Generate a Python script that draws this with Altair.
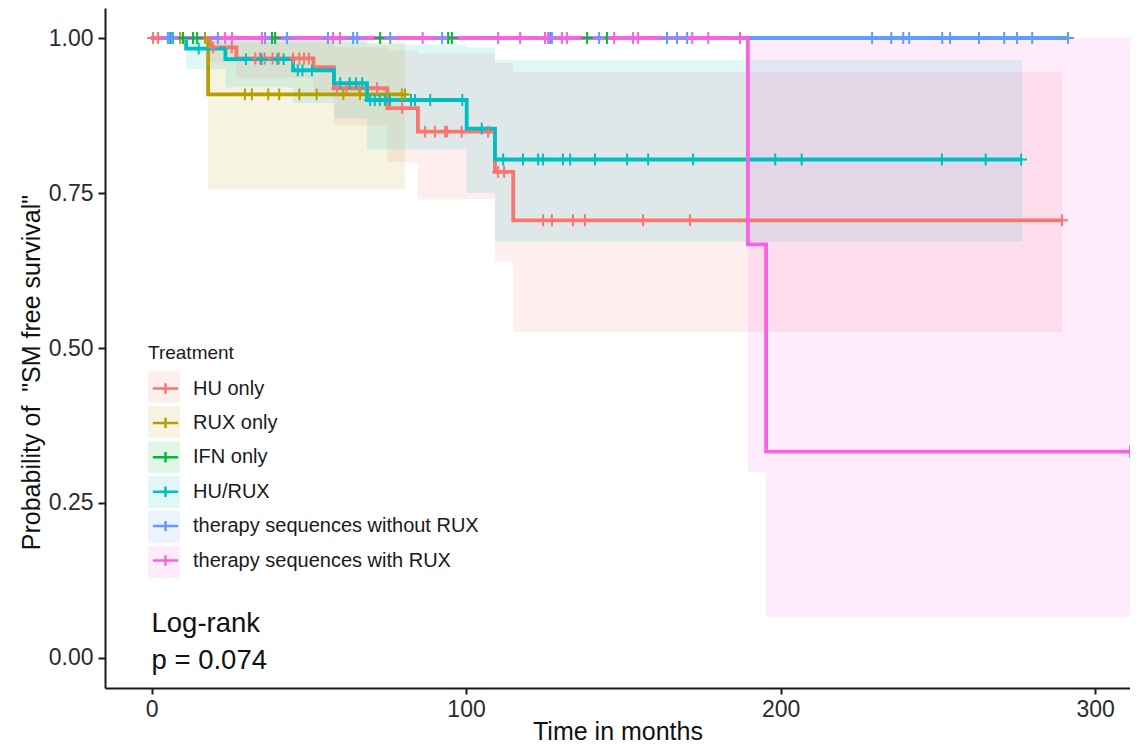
import altair as alt
import pandas as pd

groups = ["HU only", "RUX only", "IFN only", "HU/RUX",
          "therapy sequences without RUX", "therapy sequences with RUX"]
colors = ["#F8766D", "#B79F00", "#00BA38", "#00BFC4", "#619CFF", "#F564E3"]
band_keys = ["k1", "k2", "k3", "k4", "k5", "k6"]

# Kaplan-Meier step curves (time in months, survival, lower CI, upper CI)
hu_t = [0, 18.6, 27.0, 51.5, 58.0, 75.0, 84.7, 109.2, 115.0, 289.5]
hu_s = [1.0, 0.985, 0.967, 0.953, 0.919, 0.887, 0.849, 0.784, 0.706, 0.706]
hu_lo = [1.0, 0.96, 0.935, 0.91, 0.86, 0.80, 0.74, 0.64, 0.526, 0.526]
hu_hi = [1.0, 1.0, 1.0, 1.0, 0.985, 0.98, 0.975, 0.96, 0.946, 0.946]

rux_t = [0, 18.0, 80.6]
rux_s = [1.0, 0.909, 0.909]
rux_lo = [1.0, 0.756, 0.756]
rux_hi = [1.0, 0.993, 0.993]

ifn_t = [0, 144.8]
ifn_s = [1.0, 1.0]
ifn_lo = [1.0, 1.0]
ifn_hi = [1.0, 1.0]

hurux_t = [0, 11.0, 23.5, 45.0, 58.0, 68.5, 100.2, 109.2, 276.8]
hurux_s = [1.0, 0.983, 0.966, 0.948, 0.927, 0.90, 0.854, 0.804, 0.804]
hurux_lo = [1.0, 0.95, 0.92, 0.895, 0.87, 0.82, 0.75, 0.6715, 0.6715]
hurux_hi = [1.0, 1.0, 1.0, 1.0, 1.0, 0.99, 0.985, 0.965, 0.965]

nrux_t = [0, 291.4]
nrux_s = [1.0, 1.0]
nrux_lo = [1.0, 1.0]
nrux_hi = [1.0, 1.0]

wrux_t = [0, 189.6, 195.4, 311.1]
wrux_s = [1.0, 0.667, 0.333, 0.333]
wrux_lo = [1.0, 0.30, 0.066, 0.066]
wrux_hi = [1.0, 1.0, 1.0, 1.0]

# censoring times (months)
hu_c = [0.5, 2.1, 19.6, 25.5, 33.0, 34.5, 36.0, 38.5, 40.5, 45.0, 47.0, 48.5, 50.0,
        59.0, 62.0, 66.0, 71.7, 79.7, 87.0, 90.1, 93.3, 94.0, 98.6, 107.0,
        110.2, 112.1, 124.5, 127.3, 134.0, 137.8, 156.3, 171.2, 289.5]
rux_c = [9.1, 17.0, 29.7, 31.9, 37.1, 40.6, 47.0, 52.5, 61.0, 66.3, 79.6, 80.6]
ifn_c = [10.0, 13.2, 14.5, 38.3, 39.3, 72.7, 94.3, 95.5, 138.5, 144.8]
hurux_c = [5.9, 6.8, 15.0, 30.0, 35.0, 40.0, 42.0, 46.5, 48.0, 51.0, 60.0, 63.0, 65.0, 67.0,
           69.5, 71.0, 72.6, 74.2, 75.8, 82.5, 83.8, 88.6, 98.8, 105.0,
           111.8, 118.1, 122.9, 124.5, 130.8, 133.1, 141.0, 151.2, 157.9, 172.2,
           198.3, 206.7, 251.3, 265.2, 276.5]
nrux_c = [5.2, 6.5, 21.1, 36.1, 43.1, 56.1, 64.1, 65.4, 75.9, 92.4, 126.7, 127.3, 142.3,
          163.9, 167.1, 170.3, 229.1, 235.2, 239.0, 240.9, 251.4, 253.9, 263.1, 271.1,
          275.2, 280.0, 291.4]
wrux_c = [23.4, 25.6, 35.1, 57.7, 59.9, 86.2, 110.2, 117.2, 125.1, 126.1, 130.5, 132.1,
          147.1, 153.1, 154.7, 171.9, 177.0, 187.1, 311.1]

note_text = ["Log-rank", "p = 0.074"]
note_x = [0, 0]
note_y = [0.0419, -0.0177]

curves = [
    (groups[0], hu_t, hu_s, hu_lo, hu_hi, hu_c),
    (groups[1], rux_t, rux_s, rux_lo, rux_hi, rux_c),
    (groups[2], ifn_t, ifn_s, ifn_lo, ifn_hi, ifn_c),
    (groups[3], hurux_t, hurux_s, hurux_lo, hurux_hi, hurux_c),
    (groups[4], nrux_t, nrux_s, nrux_lo, nrux_hi, nrux_c),
    (groups[5], wrux_t, wrux_s, wrux_lo, wrux_hi, wrux_c),
]


def level_at(times, surv, t):
    v = surv[0]
    for ti, si in zip(times, surv):
        if ti <= t:
            v = si
    return v


step_rows, cens_rows = [], []
for (g, ts, ss, lo, hi, cs), key in zip(curves, band_keys):
    for t, s, l, h in zip(ts, ss, lo, hi):
        step_rows.append({"group": g, "key": key, "t": t, "s": s, "lo": l, "hi": h})
    for c in cs:
        cens_rows.append({"group": g, "t": c, "s": level_at(ts, ss, c)})

steps = pd.DataFrame(step_rows)
cens = pd.DataFrame(cens_rows)
notes = pd.DataFrame({"x": note_x, "y": note_y, "label": note_text})

FONT = "Liberation Sans"
x_scale = alt.Scale(domain=[-14.79, 311.1], nice=False, zero=False)
y_scale = alt.Scale(domain=[-0.0484, 1.0484], nice=False, zero=False)

x_axis = alt.Axis(values=[0, 100, 200, 300], title="Time in months", tickSize=6,
                  labelPadding=4, titleY=51, titleBaseline="alphabetic")
y_axis = alt.Axis(values=[0, 0.25, 0.5, 0.75, 1.0], format=".2f",
                  title='Probability of\u00a0 "SM free survival"', tickSize=7,
                  labelPadding=5, titleX=-66, titleY=364, titleAngle=270,
                  titleBaseline="alphabetic", titleAlign="center")

common_leg = dict(orient="none", legendX=43, legendY=336,
                  symbolSize=1000, titlePadding=8, labelOffset=10,
                  padding=0, labelLimit=400, labelFontSize=20, titleFontSize=19,
                  labelFont=FONT, titleFont=FONT, titleFontWeight="normal")

fill_leg = alt.Legend(title="\u00a0", symbolType="square", symbolOpacity=0.12,
                      symbolStrokeWidth=0, labelExpr="''", rowPadding=3, **common_leg)
stroke_leg = alt.Legend(title="Treatment",
                        symbolType="M-0.8,0H0.8M0,-0.33V0.33",
                        symbolStrokeWidth=2.5, symbolFillColor="transparent",
                        labelColor="#1a1a1a", titleColor="#1a1a1a", rowPadding=6.4,
                        **common_leg)

stroke_scale = alt.Scale(domain=groups, range=colors)

bands = alt.Chart(steps).mark_area(interpolate="step-after", opacity=0.12).encode(
    x=alt.X("t:Q", scale=x_scale, axis=x_axis),
    y=alt.Y("lo:Q", scale=y_scale, axis=y_axis),
    y2="hi:Q",
    fill=alt.Fill("key:N", scale=alt.Scale(domain=band_keys, range=colors),
                  legend=fill_leg),
)

lines = alt.Chart(steps).mark_line(interpolate="step-after", strokeWidth=3.8).encode(
    x=alt.X("t:Q", scale=x_scale),
    y=alt.Y("s:Q", scale=y_scale),
    stroke=alt.Stroke("group:N", scale=stroke_scale, legend=stroke_leg),
    order=alt.Order("t:Q"),
)

points = alt.Chart(cens).mark_point(shape="M0,-1V1M-1,0H1", size=140, strokeWidth=2,
                                    filled=False, opacity=1).encode(
    x=alt.X("t:Q", scale=x_scale),
    y=alt.Y("s:Q", scale=y_scale),
    stroke=alt.Stroke("group:N", scale=stroke_scale, legend=stroke_leg),
)

texts = alt.Chart(notes).mark_text(align="left", baseline="alphabetic", fontSize=27.5,
                                   font=FONT, color="#111111").encode(
    x=alt.X("x:Q", scale=x_scale),
    y=alt.Y("y:Q", scale=y_scale),
    text="label:N",
)

chart = alt.layer(bands, lines, points, texts).properties(
    width=1025, height=680,
    autosize=alt.AutoSizeParams(type="none"),
    padding={"left": 97, "top": 0, "right": 0, "bottom": 57},
).configure_view(stroke=None).configure_axis(
    grid=False, domainColor="#1a1a1a", domainWidth=2, tickColor="#1a1a1a", tickWidth=2,
    labelFont=FONT, labelFontSize=23, labelColor="#2b2b2b",
    titleFont=FONT, titleFontSize=25, titleFontWeight="normal", titleColor="#111111",
)

chart.save("out.html", embed_options={"renderer": "svg", "actions": False})
